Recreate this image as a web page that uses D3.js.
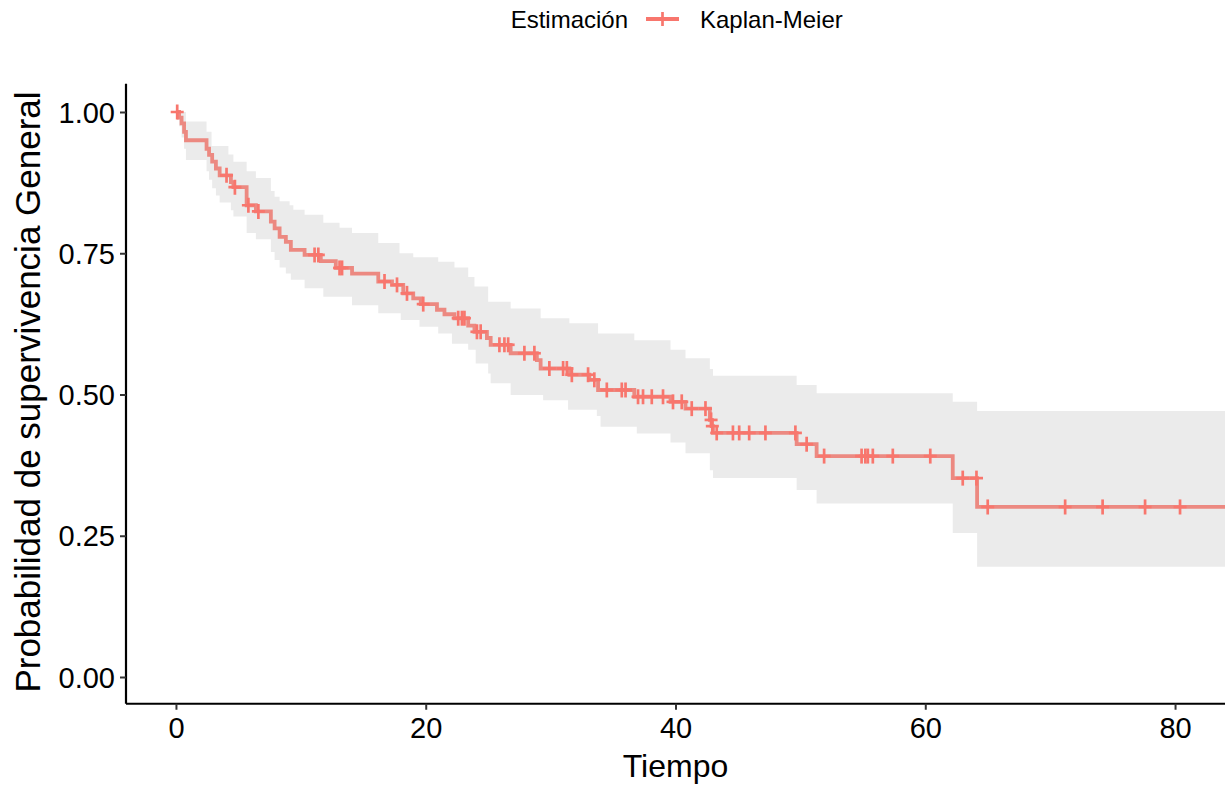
<!DOCTYPE html>
<html>
<head>
<meta charset="utf-8">
<script src="https://cdn.jsdelivr.net/npm/d3@7"></script>
<style>
  html, body { margin: 0; padding: 0; background: #fff; }
  svg { display: block; }
  text { font-family: "Liberation Sans", Arial, sans-serif; fill: #000; }
</style>
</head>
<body>
<svg id="chart" width="1225" height="785"></svg>
<script>
// ---- Data ----
const kmTime = [0, 0.25, 0.45, 0.65, 0.8, 2.45, 2.65, 2.9, 3.2, 3.5, 4.4, 4.6, 5.66, 6.4, 7.6, 7.9, 8.3, 8.8, 9.2,
  10.3, 11.6, 12.8, 14.1, 16.2, 17.3, 18.2, 19.0, 19.6, 20.9, 21.5, 22.3, 23.4, 23.9, 24.9, 25.2, 26.8, 28.9, 29.2,
  31.5, 33.1, 33.8, 36.7, 39.6, 40.8, 42.75, 42.9, 43.0, 49.7, 51.3, 62.2, 64.15];
const kmSurv = [1.0, 0.99, 0.98, 0.965, 0.95, 0.935, 0.924, 0.912, 0.90, 0.888, 0.876, 0.867, 0.835, 0.824, 0.806, 0.794, 0.779, 0.770, 0.756,
  0.747, 0.736, 0.724, 0.714, 0.700, 0.694, 0.679, 0.670, 0.660, 0.650, 0.642, 0.635, 0.622, 0.611, 0.600, 0.588, 0.573, 0.561, 0.546,
  0.535, 0.526, 0.508, 0.496, 0.487, 0.475, 0.455, 0.444, 0.432, 0.412, 0.391, 0.352, 0.301];

const upperTime = [0, 0.8, 2.45, 2.85, 4.2, 4.6, 5.66, 6.4, 7.6, 7.9, 8.3, 9.1, 9.4, 10.3, 11.8, 13.1, 14.1, 16.2, 17.9, 19.0,
  21.0, 22.3, 23.4, 23.9, 25.0, 26.8, 29.2, 31.5, 33.8, 36.7, 39.6, 40.8, 42.75, 43.0, 49.7, 51.3, 62.2, 64.15];
const upperVal = [1.0, 0.983, 0.965, 0.94, 0.925, 0.912, 0.895, 0.883, 0.86, 0.85, 0.842, 0.835, 0.827, 0.818, 0.804, 0.795, 0.786, 0.768, 0.750, 0.743,
  0.735, 0.725, 0.708, 0.691, 0.664, 0.652, 0.635, 0.626, 0.608, 0.596, 0.579, 0.564, 0.545, 0.533, 0.517, 0.502, 0.487, 0.471];

const lowerTime = [0, 0.25, 0.45, 0.65, 0.8, 2.45, 2.65, 2.9, 3.2, 3.5, 4.4, 4.6, 5.66, 6.4, 7.6, 7.9, 8.3, 8.8, 9.2, 10.3, 11.8,
  14.1, 16.2, 18.0, 19.5, 21.0, 22.1, 23.4, 24.0, 25.0, 25.2, 26.8, 29.4, 31.4, 33.7, 34.0, 36.9, 39.6, 40.8, 42.75, 43.0,
  49.7, 51.3, 62.2, 64.15];
const lowerVal = [1.0, 0.975, 0.955, 0.935, 0.915, 0.895, 0.88, 0.865, 0.852, 0.84, 0.826, 0.815, 0.786, 0.775, 0.752, 0.738, 0.725, 0.714, 0.703, 0.688, 0.673,
  0.658, 0.644, 0.632, 0.620, 0.608, 0.590, 0.579, 0.555, 0.537, 0.52, 0.499, 0.490, 0.473, 0.462, 0.443, 0.431, 0.415, 0.396, 0.366, 0.352,
  0.331, 0.307, 0.255, 0.195];

const censorTime = [0.1, 4.05, 4.72, 5.8, 6.6, 11.1, 11.4, 13.1, 13.3, 16.7, 17.7, 18.5, 19.8, 22.6, 22.9, 23.1, 24.1, 24.4,
  25.9, 26.3, 26.6, 27.9, 28.7, 29.9, 31.0, 31.3, 31.7, 33.0, 33.5, 34.5, 35.7, 36.0, 37.0, 37.4, 38.1, 39.0, 39.8, 40.5,
  41.3, 42.4, 42.85, 42.95, 43.3, 44.6, 45.1, 45.9, 47.2, 49.6, 50.5, 51.9, 54.9, 55.2, 55.4, 55.8, 57.4, 60.4, 63.0, 64.1,
  65.0, 71.2, 74.2, 77.6, 80.4];

const xTicks = [0, 20, 40, 60, 80];
const yTicks = [0, 0.25, 0.5, 0.75, 1.0];
const yTickLabels = ["0.00", "0.25", "0.50", "0.75", "1.00"];
const maxTime = 84;

// ---- Layout ----
const svg = d3.select("#chart");
const pLeft = 126, pRight = 1225, pTop = 83.75, pBottom = 705.25;
const x = d3.scaleLinear().domain([-4, 84]).range([pLeft, pRight]);
const y = d3.scaleLinear().domain([-0.05, 1.05]).range([pBottom, pTop]);

const lineColor = "#EC8981";
const markColor = "#F8766D";

function stepLookup(times, vals, t) {
  const i = d3.bisectRight(times, t) - 1;
  return vals[Math.max(0, i)];
}

// ribbon
const ribTimes = Array.from(new Set([...upperTime, ...lowerTime, maxTime])).sort((a, b) => a - b);
const ribData = ribTimes.map(t => ({ t, lo: stepLookup(lowerTime, lowerVal, t), hi: stepLookup(upperTime, upperVal, t) }));

svg.append("clipPath").attr("id", "clip")
  .append("rect").attr("x", pLeft).attr("y", pTop).attr("width", pRight - pLeft).attr("height", pBottom - pTop);

const plot = svg.append("g").attr("clip-path", "url(#clip)");

plot.append("path")
  .datum(ribData)
  .attr("fill", "#EBEBEB")
  .attr("d", d3.area().curve(d3.curveStepAfter)
    .x(d => x(d.t)).y0(d => y(d.lo)).y1(d => y(d.hi)));

const kmData = kmTime.map((t, i) => ({ t, s: kmSurv[i] })).concat([{ t: maxTime, s: kmSurv[kmSurv.length - 1] }]);
plot.append("path")
  .datum(kmData)
  .attr("fill", "none")
  .attr("stroke", lineColor)
  .attr("stroke-width", 3.8)
  .attr("d", d3.line().curve(d3.curveStepAfter).x(d => x(d.t)).y(d => y(d.s)));

const cs = 6.5;
const marks = plot.append("g").attr("stroke", markColor).attr("stroke-width", 2.7);
censorTime.forEach(t => {
  const cx = x(t), cy = y(stepLookup(kmTime, kmSurv, t));
  marks.append("line").attr("x1", cx - cs).attr("x2", cx + cs).attr("y1", cy).attr("y2", cy);
  marks.append("line").attr("x1", cx).attr("x2", cx).attr("y1", cy - cs - 1).attr("y2", cy + cs + 1);
});

// axes
const xAxis = svg.append("g").attr("transform", `translate(0,${pBottom - 1.5})`)
  .call(d3.axisBottom(x).tickValues(xTicks).tickFormat(d3.format("d")).tickSize(6).tickPadding(8));
const yAxis = svg.append("g").attr("transform", `translate(${pLeft},0)`)
  .call(d3.axisLeft(y).tickValues(yTicks).tickFormat((d, i) => yTickLabels[i]).tickSize(6).tickPadding(5));
[xAxis, yAxis].forEach(a => {
  a.select(".domain").attr("stroke", "#000").attr("stroke-width", 2.2);
  a.selectAll(".tick line").attr("stroke", "#333").attr("stroke-width", 2);
  a.selectAll(".tick text").attr("font-size", 29).attr("fill", "#000")
    .style("font-family", '"Liberation Sans", Arial, sans-serif');
});
xAxis.select(".domain").attr("d", `M${pLeft},0H${pRight}`);
yAxis.select(".domain").attr("d", `M0,${pTop}V${pBottom - 1.5}`);
yAxis.selectAll(".tick text").attr("dy", "0.35em");

// axis titles
svg.append("text").attr("x", x(40)).attr("y", 777).attr("text-anchor", "middle")
  .attr("font-size", 32).text("Tiempo");
svg.append("text").attr("transform", `translate(40,392) rotate(-90)`)
  .attr("text-anchor", "middle").attr("font-size", 35).text("Probabilidad de supervivencia General");

// legend
const lg = svg.append("g");
lg.append("text").attr("x", 628).attr("y", 28).attr("text-anchor", "end").attr("font-size", 24).text("Estimación");
lg.append("line").attr("x1", 646).attr("x2", 679).attr("y1", 19).attr("y2", 19).attr("stroke", markColor).attr("stroke-width", 3.8);
lg.append("line").attr("x1", 662.5).attr("x2", 662.5).attr("y1", 12).attr("y2", 26).attr("stroke", markColor).attr("stroke-width", 2.7);
lg.append("text").attr("x", 700).attr("y", 28).attr("font-size", 24).text("Kaplan-Meier");
</script>
</body>
</html>
